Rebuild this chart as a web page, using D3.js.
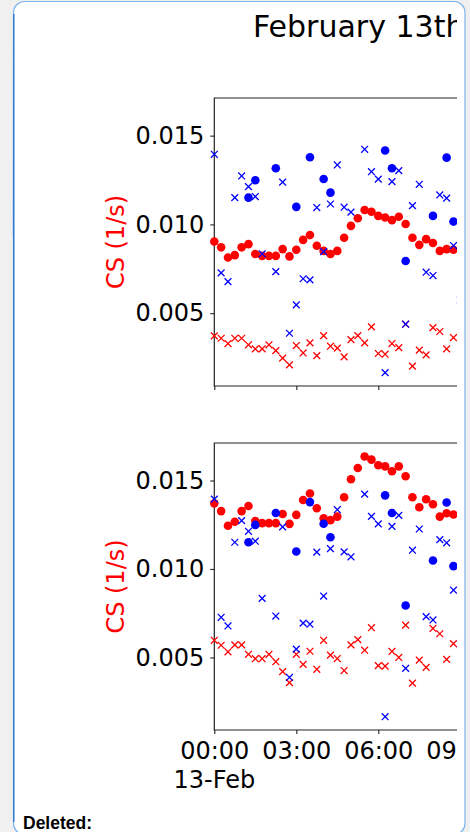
<!DOCTYPE html>
<html>
<head>
<meta charset="utf-8">
<script src="https://cdn.jsdelivr.net/npm/d3@7"></script>
<style>
  html, body { margin: 0; padding: 0; background: #f0f0f0; overflow: hidden; }
  svg { display: block; }
  .tick text { font-family: "DejaVu Sans", sans-serif; }
</style>
</head>
<body>
<svg id="chart" width="470" height="832"></svg>
<script>
// 15-minute sampling, 13 Feb
const times = ["00:00","00:15","00:30","00:45","01:00","01:15","01:30","01:45",
  "02:00","02:15","02:30","02:45","03:00","03:15","03:30","03:45",
  "04:00","04:15","04:30","04:45","05:00","05:15","05:30","05:45",
  "06:00","06:15","06:30","06:45","07:00","07:15","07:30","07:45",
  "08:00","08:15","08:30","08:45","09:00"];

// top panel, red series
const redDotsTop = [0.00904,0.00871,0.00814,0.00827,0.00871,0.00889,0.00833,0.00823,0.00823,0.00823,
  0.00861,0.00820,0.00857,0.00913,0.00940,0.00880,0.00851,0.00833,0.00851,0.00925,
  0.00992,0.01035,0.01081,0.01071,0.01048,0.01039,0.01024,0.01043,0.01002,0.00925,
  0.00885,0.00917,0.00895,0.00851,0.00861,0.00857,null];
const redCrossTop = [0.00372,0.00359,0.00329,0.00359,0.00359,0.00322,0.00299,0.00299,0.00322,0.00289,
  0.00247,0.00209,0.00318,0.00276,0.00333,0.00261,0.00374,0.00314,0.00303,0.00254,
  0.00351,0.00374,0.00333,0.00423,0.00273,0.00269,0.00329,0.00306,0.00438,0.00202,
  0.00292,0.00265,0.00419,0.00397,0.00299,0.00363,null];

// bottom panel, red series
const redDotsBottom = [0.01371,0.01327,0.01244,0.01267,0.01327,0.01356,0.01271,0.01259,0.01259,0.01259,
  0.01311,0.01255,0.01306,0.01390,0.01427,0.01343,0.01287,0.01276,0.01296,0.01405,
  0.01507,0.01571,0.01636,0.01618,0.01586,0.01580,0.01552,0.01580,0.01524,0.01405,
  0.01349,0.01394,0.01366,0.01296,0.01315,0.01308,null];
const redCrossBottom = [0.00597,0.00569,0.00532,0.00571,0.00571,0.00518,0.00493,0.00493,0.00518,0.00476,
  0.00420,0.00358,0.00518,0.00461,0.00535,0.00433,0.00597,0.00513,0.00494,0.00426,
  0.00571,0.00601,0.00541,0.00668,0.00454,0.00451,0.00534,0.00500,0.00683,0.00355,
  0.00485,0.00444,0.00664,0.00634,0.00489,0.00578,null];

// blue series, same in both panels
const blueDots = [null,null,null,null,null,0.01151,0.01249,null,null,0.01316,
  null,null,0.01099,null,0.01378,null,0.01256,0.01179,null,null,
  null,null,null,null,null,0.01416,0.01316,null,0.00794,null,
  null,null,0.01048,null,0.01376,0.01016,null];
const blueCross = [0.01395,0.00727,0.00678,0.01151,0.01273,0.01213,0.01157,0.00834,null,0.00734,
  0.01238,0.00387,0.00547,0.00694,0.00688,0.01095,0.00847,0.01115,0.01335,0.01097,
  0.01069,null,0.01423,0.01297,0.01255,0.00165,0.01241,0.01303,0.00438,0.01106,
  0.01226,0.00731,0.00712,0.01166,0.01148,0.00881,0.00575];

const yTicks = [0.005, 0.010, 0.015];
const xTicks = ["00:00","03:00","06:00","09:00"];
const titleText = "February 13th";
const yLabel = "CS (1/s)";
const dateLabel = "13-Feb";

const svg = d3.select("#chart");
const parseTime = d3.timeParse("%Y-%m-%d %H:%M");
const toDate = t => parseTime("2020-02-13 " + t);

// document comment frame
svg.append("path")
  .attr("d", "M13,236 L13.5,20")
  .attr("stroke", "#6fa6dc").attr("stroke-width", 1)
  .attr("stroke-dasharray", "1,1.5").attr("fill", "none");
svg.append("rect")
  .attr("x", 13.5).attr("y", 1.5).attr("width", 451.5).attr("height", 833)
  .attr("rx", 11).attr("fill", "#fff")
  .attr("stroke", "#7db4ea").attr("stroke-width", 1.2);
svg.append("line")
  .attr("x1", 13.8).attr("x2", 13.8).attr("y1", 14).attr("y2", 822)
  .attr("stroke", "#2b79cf").attr("stroke-width", 1.4);

svg.append("defs").append("clipPath").attr("id", "clip")
  .append("rect").attr("x", 0).attr("y", 0).attr("width", 457).attr("height", 832);

const g = svg.append("g").attr("clip-path", "url(#clip)");

g.append("text")
  .attr("x", 253).attr("y", 37)
  .style("font-family", "'DejaVu Sans', sans-serif")
  .style("font-size", "30px")
  .attr("fill", "#000")
  .text(titleText);

const x = d3.scaleTime()
  .domain([toDate("00:00"), toDate("09:00")])
  .range([214.3, 460.3]);

const panels = [
  { top: 98, bottom: 386, dots: redDotsTop, cross: redCrossTop, labels: false },
  { top: 443, bottom: 730, dots: redDotsBottom, cross: redCrossBottom, labels: true }
];

const crossPath = "M-3.4,-3.4L3.4,3.4M-3.4,3.4L3.4,-3.4";

panels.forEach(p => {
  const y = d3.scaleLinear().domain([0.00090, 0.01712]).range([p.bottom, p.top]);
  const panel = g.append("g");

  // y axis
  const ya = panel.append("g")
    .attr("transform", "translate(214.3,0)")
    .call(d3.axisLeft(y).tickValues(yTicks).tickFormat(d3.format(".3f")).tickSize(4).tickPadding(6));
  ya.select(".domain").remove();
  ya.selectAll(".tick line").attr("stroke", "#222").attr("stroke-width", 1.1);
  ya.selectAll(".tick text").style("font-size", "24px").attr("fill", "#000");

  // x axis
  const xa = panel.append("g")
    .attr("transform", `translate(0,${p.bottom})`)
    .call(d3.axisBottom(x).tickValues(xTicks.map(toDate)).tickFormat(d3.timeFormat("%H:%M")).tickSize(4).tickPadding(8));
  xa.select(".domain").remove();
  xa.selectAll(".tick line").attr("stroke", "#222").attr("stroke-width", 1.1);
  xa.selectAll(".tick text").style("font-size", "24px").attr("fill", "#000");
  if (!p.labels) {
    xa.selectAll(".tick text").remove();
  } else {
    panel.append("text")
      .attr("x", x(toDate("00:00"))).attr("y", p.bottom + 57.5)
      .attr("text-anchor", "middle")
      .style("font-family", "'DejaVu Sans', sans-serif")
      .style("font-size", "24px")
      .text(dateLabel);
  }

  // spines
  panel.append("path")
    .attr("d", `M457,${p.top}H214.3V${p.bottom}H457`)
    .attr("fill", "none").attr("stroke", "#222").attr("stroke-width", 1.2);

  // y label
  panel.append("text")
    .attr("transform", `translate(124,${(p.top + p.bottom) / 2}) rotate(-90)`)
    .attr("text-anchor", "middle")
    .style("font-family", "'DejaVu Sans', sans-serif")
    .style("font-size", "24px")
    .attr("fill", "#ff0000")
    .text(yLabel);

  const pts = arr => times.map((t, i) => ({ t: toDate(t), v: arr[i] })).filter(d => d.v != null);

  panel.selectAll(".rdot").data(pts(p.dots)).enter().append("circle")
    .attr("cx", d => x(d.t)).attr("cy", d => y(d.v)).attr("r", 4.3)
    .attr("fill", "#ff0000");

  panel.selectAll(".rcross").data(pts(p.cross)).enter().append("path")
    .attr("transform", d => `translate(${x(d.t)},${y(d.v)})`)
    .attr("d", crossPath).attr("stroke", "#ff0000").attr("stroke-width", 1.3).attr("fill", "none");

  panel.selectAll(".bdot").data(pts(blueDots)).enter().append("circle")
    .attr("cx", d => x(d.t)).attr("cy", d => y(d.v)).attr("r", 4.3)
    .attr("fill", "#0000ff");

  panel.selectAll(".bcross").data(pts(blueCross)).enter().append("path")
    .attr("transform", d => `translate(${x(d.t)},${y(d.v)})`)
    .attr("d", crossPath).attr("stroke", "#0000ff").attr("stroke-width", 1.3).attr("fill", "none");
});

svg.append("text")
  .attr("x", 23).attr("y", 829)
  .style("font-family", "'Liberation Sans', Arial, sans-serif")
  .style("font-size", "17.5px")
  .style("font-weight", "bold")
  .attr("fill", "#000")
  .text("Deleted:");
</script>
</body>
</html>
